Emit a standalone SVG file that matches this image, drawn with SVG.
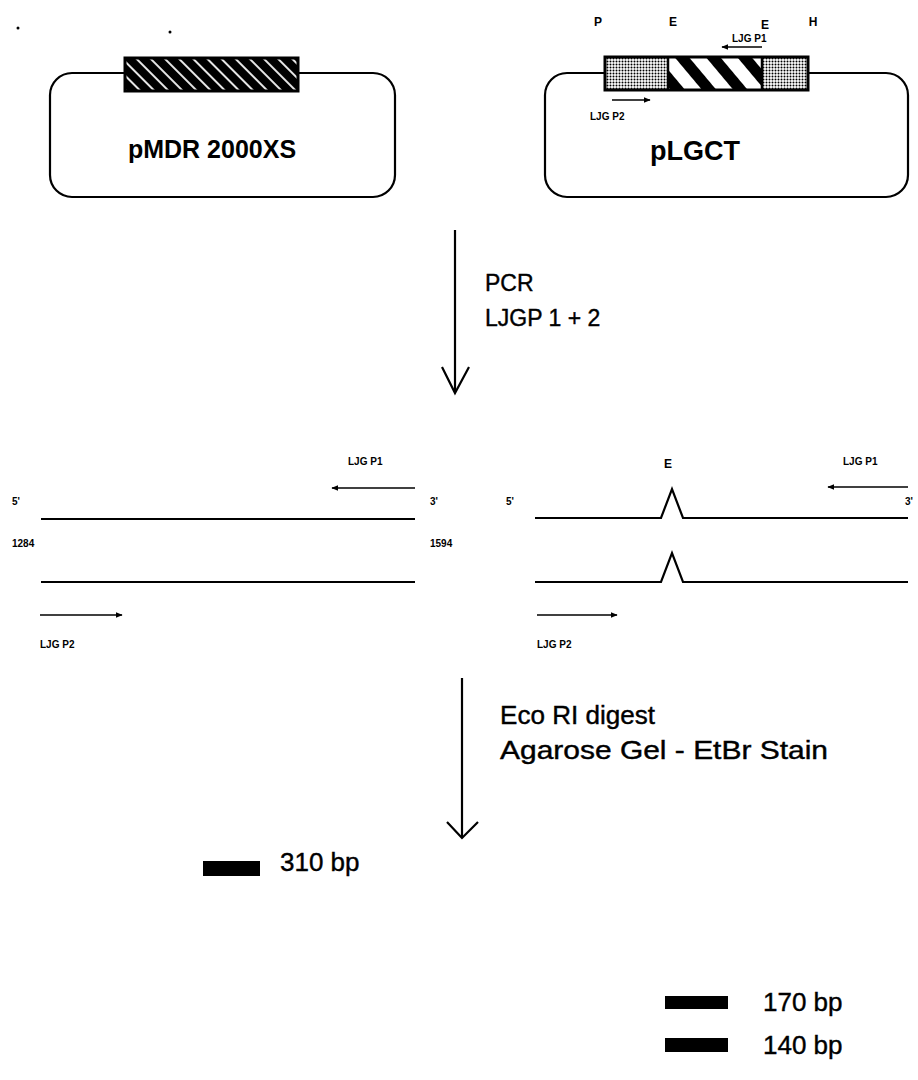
<svg xmlns="http://www.w3.org/2000/svg" width="918" height="1080" viewBox="0 0 918 1080">
<style>
.big{font-family:"Liberation Sans",Arial,sans-serif;fill:#000;stroke:#000;stroke-width:0.4}
.bigb{font-family:"Liberation Sans",Arial,sans-serif;font-weight:bold;fill:#000}
.sm{font-family:"Liberation Sans",Arial,sans-serif;font-size:10px;font-weight:bold;fill:#000}
.site{font-family:"Liberation Sans",Arial,sans-serif;font-size:12px;font-weight:bold;fill:#000}
.ln{stroke:#000;stroke-width:2.2;fill:none}
.thin{stroke:#000;stroke-width:1.6;fill:none}
</style>
<defs>
<pattern id="hatch" width="10" height="10" patternUnits="userSpaceOnUse" patternTransform="rotate(-45)">
<rect width="10" height="10" fill="#000"/>
<line x1="5" y1="0" x2="5" y2="10" stroke="#fff" stroke-width="1.8"/>
</pattern>
<pattern id="dots" width="3" height="3" patternUnits="userSpaceOnUse">
<rect width="3" height="3" fill="#fff"/>
<circle cx="1.5" cy="1.5" r="1" fill="#000"/>
</pattern>
<pattern id="bands" width="24" height="24" patternUnits="userSpaceOnUse" patternTransform="rotate(-40)">
<rect width="24" height="24" fill="#fff"/>
<rect x="0" y="0" width="11" height="24" fill="#000"/>
</pattern>
<marker id="ah" viewBox="0 0 10 10" refX="9" refY="5" markerWidth="7" markerHeight="7" orient="auto" markerUnits="userSpaceOnUse">
<path d="M0,1 L10,5 L0,9 Z" fill="#000"/>
</marker>
</defs>

<circle cx="18" cy="28" r="1.5" fill="#000"/>
<circle cx="170" cy="32" r="1.5" fill="#000"/>

<g id="plasmid-pMDR">
<rect x="50" y="73" width="345" height="124" rx="22" class="ln"/>
<rect x="125" y="58" width="173" height="33" fill="url(#hatch)" stroke="#000" stroke-width="3"/>
<text x="212" y="158" text-anchor="middle" class="bigb" font-size="25">pMDR 2000XS</text>
</g>

<g id="plasmid-pLGCT">
<rect x="545" y="73" width="363" height="124" rx="22" class="ln"/>
<rect x="605" y="57" width="63" height="33" fill="url(#dots)"/>
<rect x="668" y="57" width="94" height="33" fill="url(#bands)"/>
<rect x="762" y="57" width="46" height="33" fill="url(#dots)"/>
<rect x="605" y="57" width="203" height="33" fill="none" stroke="#000" stroke-width="3"/>
<line x1="668" y1="57" x2="668" y2="90" stroke="#000" stroke-width="2.5"/>
<line x1="762" y1="57" x2="762" y2="90" stroke="#000" stroke-width="2.5"/>
<text x="598" y="26" text-anchor="middle" class="site">P</text>
<text x="673" y="26" text-anchor="middle" class="site">E</text>
<text x="765" y="29" text-anchor="middle" class="site">E</text>
<text x="813" y="26" text-anchor="middle" class="site">H</text>
<text x="732" y="42" class="sm">LJG P1</text>
<line x1="762" y1="47" x2="722" y2="47" class="thin" marker-end="url(#ah)"/>
<line x1="612" y1="100" x2="650" y2="100" class="thin" marker-end="url(#ah)"/>
<text x="590" y="120" class="sm">LJG P2</text>
<text x="695" y="160" text-anchor="middle" class="bigb" font-size="27">pLGCT</text>
</g>

<g id="connectors">
<line x1="455" y1="230" x2="455" y2="392" class="ln"/>
<polyline points="442,367 455,393 469,367" class="ln"/>
<line x1="462" y1="678" x2="462" y2="837" class="ln"/>
<polyline points="447,822 462,838 478,822" class="ln"/>
</g>

<g id="step-pcr">
<text x="485" y="291" class="big" font-size="23">PCR</text>
<text x="485" y="326" class="big" font-size="23">LJGP 1 + 2</text>
</g>

<g id="product-left">
<text x="348" y="465" class="sm">LJG P1</text>
<line x1="415" y1="488" x2="332" y2="488" class="thin" marker-end="url(#ah)"/>
<text x="12" y="505" class="sm">5'</text>
<text x="430" y="505" class="sm">3'</text>
<line x1="41" y1="519" x2="415" y2="519" class="ln"/>
<text x="12" y="547" class="sm">1284</text>
<text x="430" y="547" class="sm">1594</text>
<line x1="41" y1="582" x2="415" y2="582" class="ln"/>
<line x1="40" y1="615" x2="122" y2="615" class="thin" marker-end="url(#ah)"/>
<text x="40" y="648" class="sm">LJG P2</text>
</g>

<g id="product-right">
<text x="668" y="468" text-anchor="middle" class="site">E</text>
<text x="843" y="465" class="sm">LJG P1</text>
<line x1="908" y1="487" x2="828" y2="487" class="thin" marker-end="url(#ah)"/>
<text x="506" y="505" class="sm">5'</text>
<text x="905" y="505" class="sm">3'</text>
<polyline points="535,518 661,518 672,489 683,518 908,518" class="ln"/>
<polyline points="535,582 661,582 672,553 683,582 908,582" class="ln"/>
<line x1="537" y1="615" x2="617" y2="615" class="thin" marker-end="url(#ah)"/>
<text x="537" y="648" class="sm">LJG P2</text>
</g>

<g id="step-digest">
<text x="500" y="724" class="big" font-size="25" textLength="155" lengthAdjust="spacingAndGlyphs">Eco RI digest</text>
<text x="500" y="759" class="big" font-size="25" textLength="328" lengthAdjust="spacingAndGlyphs">Agarose Gel - EtBr Stain</text>
</g>

<g id="gel">
<rect x="203" y="861" width="57" height="15" fill="#000"/>
<text x="280" y="871" class="big" font-size="26">310 bp</text>
<rect x="665" y="996" width="63" height="13" fill="#000"/>
<text x="763" y="1011" class="big" font-size="26">170 bp</text>
<rect x="665" y="1038" width="63" height="14" fill="#000"/>
<text x="763" y="1054" class="big" font-size="26">140 bp</text>
</g>
</svg>
